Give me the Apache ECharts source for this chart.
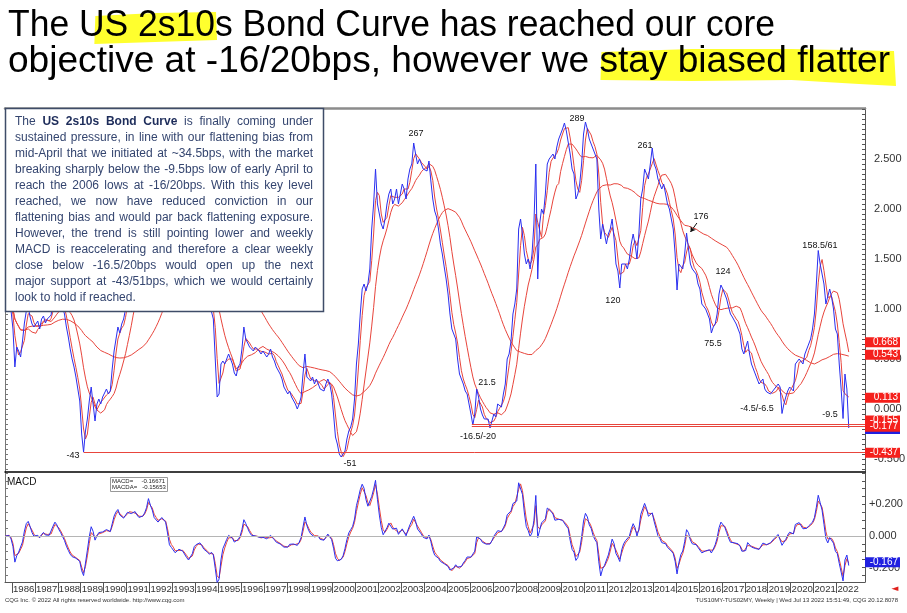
<!DOCTYPE html>
<html><head><meta charset="utf-8">
<script src="https://cdn.jsdelivr.net/npm/echarts@6/dist/echarts.min.js"></script>
<style>html,body{margin:0;padding:0;background:#fff}#c{width:907px;height:613px}</style>
</head><body><div id="c"></div>
<script>
// ---- Weekly-chart values read monthly (US 10y - 2y, in %) ----
const v1985 = [1.05,1.10,1.05,0.98]; // Sep-Dec
const v1986 = [0.80,0.42,0.62,0.58,0.52,0.68,0.86,0.98,1.02,0.92,0.85,0.82];
const v1987 = [0.82,0.88,0.80,0.90,0.93,0.86,0.90,0.88,0.94,1.12,1.20,1.15];
const v1988 = [1.10,1.08,1.02,0.95,0.82,0.72,0.60,0.50,0.42,0.32,0.20,0.08];
const v1989 = [-0.25,-0.43,-0.22,-0.10,0.08,0.22,0.05,-0.12,0.05,0.10,0.05,0.12];
const v1990 = [0.10,0.20,0.15,0.18,0.40,0.58,0.70,0.82,0.76,0.85,0.90,1.00];
const v1991 = [1.20,1.30,1.30,1.45,1.55,1.55,1.60,1.70,1.80,1.95,2.15,2.45];
const v1992 = [2.35,2.40,2.35,2.45,2.45,2.55,2.70,2.70,2.70,2.50,2.30,2.30];
const v1993 = [2.25,2.10,2.05,2.10,2.05,1.90,1.85,1.65,1.55,1.45,1.55,1.60];
const v1994 = [1.55,1.55,1.50,1.40,1.30,1.25,1.15,1.05,1.05,0.90,0.50,0.12];
const v1995 = [0.15,0.45,0.48,0.45,0.50,0.55,0.50,0.45,0.36,0.33,0.42,0.45];
const v1996 = [0.60,0.82,0.70,0.66,0.62,0.60,0.58,0.62,0.60,0.58,0.55,0.58];
const v1997 = [0.58,0.52,0.55,0.60,0.52,0.48,0.42,0.40,0.35,0.30,0.22,0.20];
const v1998 = [0.15,0.18,0.12,0.10,0.05,0.00,0.05,0.12,0.35,0.55,0.32,0.30];
const v1999 = [0.28,0.32,0.25,0.30,0.28,0.20,0.22,0.18,0.25,0.30,0.25,0.15];
const v2000 = [-0.05,-0.28,-0.35,-0.45,-0.48,-0.50,-0.42,-0.30,-0.22,-0.18,-0.10,0.10];
const v2001 = [0.45,0.65,0.95,1.20,1.25,1.18,1.25,1.40,1.80,2.05,2.40,2.05];
const v2002 = [1.95,1.85,1.80,1.90,2.05,2.15,2.20,2.05,2.10,2.20,2.05,2.15];
const v2003 = [2.25,2.20,2.10,2.30,2.40,2.45,2.66,2.55,2.45,2.50,2.45,2.40];
const v2004 = [2.42,2.38,2.48,2.28,2.10,1.98,1.92,1.80,1.65,1.55,1.42,1.30];
const v2005 = [1.15,0.95,0.80,0.78,0.70,0.50,0.35,0.30,0.25,0.18,0.15,0.05];
const v2006 = [-0.05,-0.16,-0.05,0.20,0.12,0.00,-0.06,-0.10,-0.12,-0.10,-0.19,-0.12];
const v2007 = [-0.05,-0.08,0.05,0.05,0.02,0.15,0.25,0.50,0.55,0.68,0.95,1.05];
const v2008 = [1.20,1.80,1.90,1.75,1.55,1.45,1.50,1.40,1.55,1.85,2.45,1.30];
const v2009 = [1.85,2.00,1.95,2.15,2.45,2.50,2.48,2.55,2.50,2.62,2.70,2.75];
const v2010 = [2.80,2.86,2.78,2.80,2.55,2.40,2.35,2.10,2.15,2.25,2.45,2.75];
const v2011 = [2.87,2.80,2.70,2.72,2.60,2.55,2.50,2.00,1.70,1.85,1.75,1.65];
const v2012 = [1.75,1.80,1.90,1.70,1.45,1.38,1.21,1.45,1.45,1.45,1.40,1.50];
const v2013 = [1.65,1.75,1.65,1.50,1.75,2.10,2.20,2.40,2.35,2.30,2.45,2.61];
const v2014 = [2.45,2.40,2.30,2.30,2.20,2.25,2.15,2.05,2.00,1.90,1.80,1.55];
const v2015 = [1.19,1.45,1.45,1.40,1.55,1.76,1.60,1.45,1.40,1.40,1.35,1.25];
const v2016 = [1.20,1.05,1.05,1.00,0.95,0.90,0.76,0.82,0.85,0.95,1.15,1.24];
const v2017 = [1.20,1.18,1.10,1.02,0.95,0.92,0.93,0.85,0.85,0.75,0.60,0.55];
const v2018 = [0.55,0.68,0.55,0.45,0.45,0.35,0.30,0.25,0.25,0.30,0.20,0.17];
const v2019 = [0.17,0.15,0.15,0.20,0.18,0.25,0.22,-0.045,0.05,0.12,0.18,0.22];
const v2020 = [0.22,0.18,0.45,0.45,0.50,0.50,0.45,0.55,0.55,0.65,0.70,0.80];
const v2021 = [0.95,1.25,1.585,1.45,1.45,1.25,1.05,1.05,1.20,1.12,1.00,0.80];
const v2022 = [0.75,0.45,0.20,-0.095,0.35,0.20,-0.19]; // Jan-Jul

const yearBlocks = [[1985,9,v1985],[1986,1,v1986],[1987,1,v1987],[1988,1,v1988],[1989,1,v1989],
 [1990,1,v1990],[1991,1,v1991],[1992,1,v1992],[1993,1,v1993],[1994,1,v1994],[1995,1,v1995],
 [1996,1,v1996],[1997,1,v1997],[1998,1,v1998],[1999,1,v1999],[2000,1,v2000],[2001,1,v2001],
 [2002,1,v2002],[2003,1,v2003],[2004,1,v2004],[2005,1,v2005],[2006,1,v2006],[2007,1,v2007],
 [2008,1,v2008],[2009,1,v2009],[2010,1,v2010],[2011,1,v2011],[2012,1,v2012],[2013,1,v2013],
 [2014,1,v2014],[2015,1,v2015],[2016,1,v2016],[2017,1,v2017],[2018,1,v2018],[2019,1,v2019],
 [2020,1,v2020],[2021,1,v2021],[2022,1,v2022]];

// moving-average lengths (weeks) and MACD settings (weeks)
const maWeeks = [13, 52, 200];
const macdWeeks = [12, 26, 9];

// support levels
const supportLevels = [
  {from: 2006.08, v: -0.155},
  {from: 2006.08, v: -0.177},
  {from: 1989.125, v: -0.437}
];

// annotations (text, year, value)
const annoText = ['267','289','261','176','120','124','75.5','-4.5/-6.5','158.5/61','-9.5','21.5','-16.5/-20','-43','-51'];
const annoX = [2003.64,2010.67,2013.64,2016.09,2012.24,2017.05,2016.61,2018.53,2021.28,2021.72,2006.74,2006.35,1988.66,2000.76];
const annoY = [2.75,2.90,2.63,1.92,1.08,1.37,0.65,0.0,1.63,-0.06,0.26,-0.28,-0.47,-0.55];

// right-axis tags
const tagValues = [0.668, 0.543, 0.113, -0.155, -0.177, -0.437];
const currentValue = -0.19;
const macdTag = -0.167;
const macdLegend = ['MACD=     -0.16671', 'MACDA=   -0.15653'];

const yLabelVals = [-0.5, 0, 0.5, 1, 1.5, 2, 2.5];
const macdLabelVals = [-0.2, 0, 0.2];

const titleLine1 = 'The US 2s10s Bond Curve has reached our core';
const titleLine2 = 'objective at -16/20bps, however we stay biased flatter';
const boxText = [
 'The *US* *2s10s* *Bond* *Curve* is finally coming under',
 'sustained pressure, in line with our flattening bias from',
 'mid-April that we initiated at ~34.5bps, with the market',
 'breaking sharply below the -9.5bps low of early April to',
 'reach the 2006 lows at -16/20bps. With this key level',
 'reached, we now have reduced conviction in our',
 'flattening bias and would par back flattening exposure.',
 'However, the trend is still pointing lower and weekly',
 'MACD is reaccelerating and therefore a clear weekly',
 'close below -16.5/20bps would open up the next',
 'major support at -43/51bps, which we would certainly',
 'look to hold if reached.'
];
const footLeft = 'CQG Inc. \u00a9 2022 All rights reserved worldwide. http://www.cqg.com';
const footRight = 'TUS10MY-TUS02MY, Weekly | Wed Jul 13 2022 15:51:49, CQG 20.12.8078';

// ---- build series ----
const curve = [];
yearBlocks.forEach(([yr, m0, arr]) => arr.forEach((v, i) => curve.push([yr + (m0 - 1 + i + 0.5) / 12, v])));
const WPM = 52 / 12;
function sma(pts, n) {
  return pts.map((p, i) => { const s = Math.max(0, i - n + 1); let sum = 0;
    for (let k = s; k <= i; k++) sum += pts[k][1]; return [p[0], sum / (i - s + 1)]; });
}
function ema(vals, n) { const a = 2 / (n + 1); let e = vals[0]; return vals.map(v => (e = a * v + (1 - a) * e)); }
const mas = maWeeks.map(w => sma(curve, Math.round(w / WPM)));
const raw = curve.map(p => p[1]);
const ef = ema(raw, macdWeeks[0] / WPM), es = ema(raw, macdWeeks[1] / WPM);
const macdVals = raw.map((_, i) => ef[i] - es[i]);
const sigVals = ema(macdVals, macdWeeks[2] / WPM);
const macdLine = curve.map((p, i) => [p[0], macdVals[i]]);
const sigLine = curve.map((p, i) => [p[0], sigVals[i]]);

const MIN_X = 1985.694, MAX_X = 2023.25;
const years = []; for (let y = 1986; y <= 2022; y++) years.push(y);
const ticksMain = []; for (let k = -12; k <= 60; k++) ticksMain.push(+(k * 0.05).toFixed(2));
const ticksMacd = []; for (let k = -5; k <= 8; k++) ticksMacd.push(+(k * 0.05).toFixed(2));
const FONT = '"Liberation Sans", Arial, Helvetica, sans-serif';
const RED = '#e8453c', BLUE = '#2a2ff0';

const chart = echarts.init(document.getElementById('c'), null, {renderer: 'canvas', width: 907, height: 613});
const noAx = {show: false};
chart.setOption({
  animation: false,
  backgroundColor: '#fff',
  grid: [
    {left: 5, right: 42, top: 108, height: 364, containLabel: false, outerBoundsMode: 'none'},
    {left: 5, right: 42, top: 472, height: 110, containLabel: false, outerBoundsMode: 'none'}
  ],
  xAxis: [
    {gridIndex: 0, type: 'value', min: MIN_X, max: MAX_X, position: 'bottom',
      axisLine: {show: true, onZero: false, lineStyle: {color: '#000', width: 1.5}}, axisTick: noAx, axisLabel: noAx, splitLine: noAx},
    {gridIndex: 0, type: 'value', min: MIN_X, max: MAX_X, position: 'top',
      axisLine: {show: true, onZero: false, lineStyle: {color: '#8c8c8c', width: 2.5}}, axisTick: noAx, axisLabel: noAx, splitLine: noAx},
    {gridIndex: 1, type: 'value', min: MIN_X, max: MAX_X, position: 'bottom',
      axisLine: {show: true, onZero: false, lineStyle: {color: '#555', width: 1}},
      axisTick: {show: true, customValues: years, length: 11, lineStyle: {color: '#555'}},
      axisLabel: {show: true, customValues: years, formatter: v => String(Math.round(v)), align: 'left',
        showMinLabel: true, showMaxLabel: true, hideOverlap: false,
        padding: [0, 0, 0, 1], margin: 2, fontSize: 9.6, color: '#333', fontFamily: FONT},
      splitLine: noAx}
  ],
  yAxis: [
    {gridIndex: 0, type: 'value', min: -0.63, max: 3.01, position: 'right',
      axisLine: {show: true, onZero: false, lineStyle: {color: '#555'}},
      axisTick: {show: true, inside: true, length: 3, customValues: ticksMain, lineStyle: {color: '#555'}},
      axisLabel: {show: true, customValues: yLabelVals, formatter: v => v.toFixed(3), fontSize: 11,
        color: '#333', margin: 9, fontFamily: FONT},
      splitLine: noAx},
    {gridIndex: 0, type: 'value', min: -0.63, max: 3.01, position: 'left',
      axisLine: {show: true, onZero: false, lineStyle: {color: '#777'}},
      axisTick: {show: true, inside: true, length: 3, customValues: ticksMain, lineStyle: {color: '#777'}},
      axisLabel: noAx, splitLine: noAx},
    {gridIndex: 1, type: 'value', min: -0.292, max: 0.406, position: 'right',
      axisLine: {show: true, onZero: false, lineStyle: {color: '#555'}},
      axisTick: {show: true, inside: true, length: 3, customValues: ticksMacd, lineStyle: {color: '#555'}},
      axisLabel: {show: true, customValues: macdLabelVals,
        formatter: v => (v > 0.0001 ? '+' : '') + (Math.abs(v) < 1e-6 ? '0.000' : v.toFixed(3)),
        fontSize: 11, color: '#333', margin: 4, fontFamily: FONT},
      splitLine: noAx},
    {gridIndex: 1, type: 'value', min: -0.292, max: 0.406, position: 'left',
      axisLine: {show: true, onZero: false, lineStyle: {color: '#777'}},
      axisTick: {show: true, inside: true, length: 3, customValues: ticksMacd, lineStyle: {color: '#777'}},
      axisLabel: noAx, splitLine: noAx}
  ],
  series: [
    ...mas.map(m => ({type: 'line', xAxisIndex: 0, yAxisIndex: 0, data: m, showSymbol: false, symbol: 'none',
      lineStyle: {color: RED, width: 1}, z: 3, silent: true})),
    {type: 'line', xAxisIndex: 0, yAxisIndex: 0, data: curve, showSymbol: false, symbol: 'none',
      lineStyle: {color: BLUE, width: 1}, z: 4, silent: true,
      markLine: {silent: true, symbol: ['none', 'none'], label: {show: false},
        lineStyle: {color: RED, width: 1, type: 'solid'},
        data: [
          ...supportLevels.map(s => [{coord: [s.from, s.v]}, {coord: [MAX_X, s.v]}]),
          [{coord: [2015.91, 1.86], symbol: 'none', lineStyle: {color: '#111', width: 1}},
           {coord: [2015.63, 1.77], symbol: 'arrow', symbolSize: 5}]
        ]},
      markPoint: {silent: true, symbol: 'rect', symbolSize: [1, 1], itemStyle: {color: 'rgba(0,0,0,0)'},
        label: {show: true, position: 'inside', color: '#111', fontSize: 9, fontFamily: FONT},
        data: annoText.map((t, i) => ({coord: [annoX[i], annoY[i]], value: 0, label: {formatter: t}}))}
    },
    {type: 'line', xAxisIndex: 2, yAxisIndex: 2, data: sigLine, showSymbol: false, symbol: 'none',
      lineStyle: {color: RED, width: 1}, z: 3, silent: true,
      markLine: {silent: true, symbol: ['none', 'none'], label: {show: false},
        lineStyle: {color: '#b5b5b5', width: 1, type: 'solid'}, data: [{yAxis: 0}]}},
    {type: 'line', xAxisIndex: 2, yAxisIndex: 2, data: macdLine, showSymbol: false, symbol: 'none',
      lineStyle: {color: BLUE, width: 1}, z: 4, silent: true}
  ]
});

// ---- graphics (title, text box, tags, footer) ----
const g = [];
const mctx = document.createElement('canvas').getContext('2d');
function mwF(t, font) { mctx.font = font; return mctx.measureText(t).width; }
const TF = '36px ' + FONT;
const s1 = 767 / mwF(titleLine1, TF), s2 = 882 / mwF(titleLine2, TF);
// highlighter strokes positioned from the title text metrics
const h1a = 8 + s1 * (mwF('The ', TF) + 0.6 * mwF('U', TF)), h1b = 8 + s1 * mwF('The US 2s10', TF) + 1;
const h2a = 8 + s2 * mwF('objective at -16/20bps, however we ', TF) + 2, h2b = 8 + s2 * mwF(titleLine2, TF) + 4;
g.push({type: 'polygon', z: 1, silent: true,
  shape: {points: [[h1a + 1, 16], [(h1a + h1b) / 2, 13], [h1b, 12], [h1b + 1, 40], [(h1a + h1b) / 2, 42], [h1a, 44]]},
  style: {fill: '#ffff2e'}});
g.push({type: 'polygon', z: 1, silent: true,
  shape: {points: [[h2a, 52], [h2a + 90, 49], [h2a + 190, 49], [h2b, 51], [h2b + 2, 86], [h2b - 35, 84], [h2a + 190, 80], [h2a + 90, 81], [h2a - 1, 80]]},
  style: {fill: '#ffff2e'}});
g.push({type: 'text', z: 2, silent: true, x: 8, y: 26, scaleX: s1,
  style: {text: titleLine1, x: 0, y: 0, font: TF, fill: '#000', verticalAlign: 'middle', textVerticalAlign: 'middle'}});
g.push({type: 'text', z: 2, silent: true, x: 8, y: 62, scaleX: s2,
  style: {text: titleLine2, x: 0, y: 0, font: TF, fill: '#000', verticalAlign: 'middle', textVerticalAlign: 'middle'}});

// text box
g.push({type: 'rect', z: 50, silent: true, shape: {x: 5.5, y: 108.5, width: 318, height: 203},
  style: {fill: '#fff', stroke: '#3f4c68', lineWidth: 1.5}});
const fN = '12px ' + FONT, fB = 'bold 12px ' + FONT;
function mw(t, b) { return mwF(t, b ? fB : fN); }
const bx0 = 15, bx1 = 313;
boxText.forEach((line, li) => {
  const words = line.split(' ').map(w => { const b = /^\*.*\*$/.test(w); return {t: b ? w.slice(1, -1) : w, b}; });
  const widths = words.map(w => mw(w.t, w.b));
  const total = widths.reduce((a, b) => a + b, 0);
  const last = li === boxText.length - 1;
  const gap = last ? mw(' ', false) : (bx1 - bx0 - total) / (words.length - 1);
  let x = bx0;
  const y = 121.5 + 16 * li;
  words.forEach((w, i) => {
    g.push({type: 'text', z: 51, silent: true, style: {text: w.t, x, y, font: (w.b ? fB : fN),
      fill: w.b ? '#1d2c5a' : '#34456f', verticalAlign: 'middle', textVerticalAlign: 'middle'}});
    x += widths[i] + gap;
  });
});

// right-axis tags
function tag(yPix, text, color) {
  g.push({type: 'rect', z: 60, silent: true, shape: {x: 865, y: yPix - 5, width: 35, height: 10}, style: {fill: color}});
  if (text) g.push({type: 'text', z: 61, silent: true, style: {text, x: 898, y: yPix, fontSize: 10, fontFamily: FONT,
    fill: '#fff', align: 'right', textAlign: 'right', verticalAlign: 'middle', textVerticalAlign: 'middle'}});
}
tag(chart.convertToPixel({yAxisIndex: 0}, currentValue) + 1, '', '#2020e0');
tagValues.forEach((v, i) => {
  let y = chart.convertToPixel({yAxisIndex: 0}, v);
  if (i === 3) y -= 4;
  tag(y, v.toFixed(3), '#f5201c');
});
tag(chart.convertToPixel({yAxisIndex: 2}, macdTag), macdTag.toFixed(3), '#2020e0');

// MACD labels
g.push({type: 'text', z: 20, silent: true, style: {text: 'MACD', x: 7, y: 482, fontSize: 10, fontFamily: FONT, fill: '#111', verticalAlign: 'middle', textVerticalAlign: 'middle'}});
g.push({type: 'rect', z: 20, silent: true, shape: {x: 110.5, y: 477.5, width: 57, height: 14}, style: {fill: '#fff', stroke: '#999', lineWidth: 1}});
macdLegend.forEach((t, i) => g.push({type: 'text', z: 21, silent: true, style: {text: t, x: 112, y: 481.5 + 6 * i,
  fontSize: 6, fontFamily: FONT, fill: '#222', verticalAlign: 'middle', textVerticalAlign: 'middle'}}));

// footer
g.push({type: 'text', z: 20, silent: true, style: {text: footLeft, x: 5, y: 600, fontSize: 6, fontFamily: FONT, fill: '#333', verticalAlign: 'middle', textVerticalAlign: 'middle'}});
g.push({type: 'text', z: 20, silent: true, style: {text: footRight, x: 898, y: 600, fontSize: 6, fontFamily: FONT, fill: '#333', align: 'right', textAlign: 'right', verticalAlign: 'middle', textVerticalAlign: 'middle'}});
g.push({type: 'text', z: 20, silent: true, style: {text: '\u25C4', x: 895, y: 589, fontSize: 9, fontFamily: 'DejaVu Sans', fill: '#e0201c', align: 'center', textAlign: 'center', verticalAlign: 'middle', textVerticalAlign: 'middle'}});

chart.setOption({graphic: g});
</script></body></html>
